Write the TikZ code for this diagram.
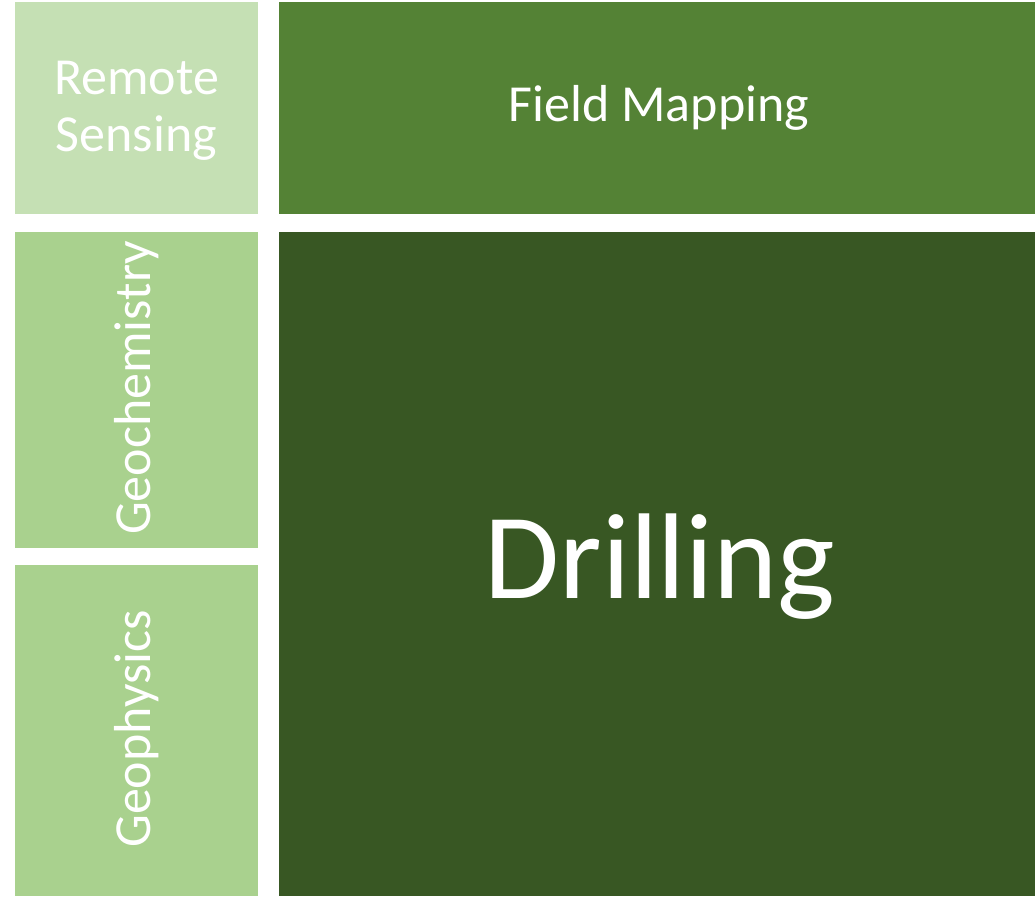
\documentclass[tikz,border=0pt]{standalone}
\usepackage{fontspec}
\setmainfont{Carlito}
\definecolor{rsgreen}{HTML}{C5E0B4}
\definecolor{fmgreen}{HTML}{548235}
\definecolor{gcgreen}{HTML}{A9D18E}
\definecolor{drgreen}{HTML}{385723}
\begin{document}
\begin{tikzpicture}[x=1pt,y=-1pt,
  lbl/.style={text=white,align=center,inner sep=0pt},
  small/.style={lbl,font=\fontsize{52}{57}\selectfont}]
\useasboundingbox (0,0) rectangle (1035,896);
\fill[white] (0,0) rectangle (1035,896);
\fill[rsgreen] (15,2) rectangle (258,214);
\fill[fmgreen] (279,2) rectangle (1035,214);
\fill[gcgreen] (15,232) rectangle (258,548);
\fill[gcgreen] (15,565) rectangle (258,896);
\fill[drgreen] (279,232) rectangle (1035,896);
\node[small] (rs) at (136.5,111) {Remote\\Sensing};
\node[small] (fm) at (659,108) {Field Mapping};
\node[small,rotate=90] (gc) at (136.5,388) {Geochemistry};
\node[small,rotate=90] (gp) at (136.5,729) {Geophysics};
\node[lbl,font=\fontsize{122}{140}\selectfont] (dr) at (660,567) {Drilling};
\end{tikzpicture}
\end{document}
